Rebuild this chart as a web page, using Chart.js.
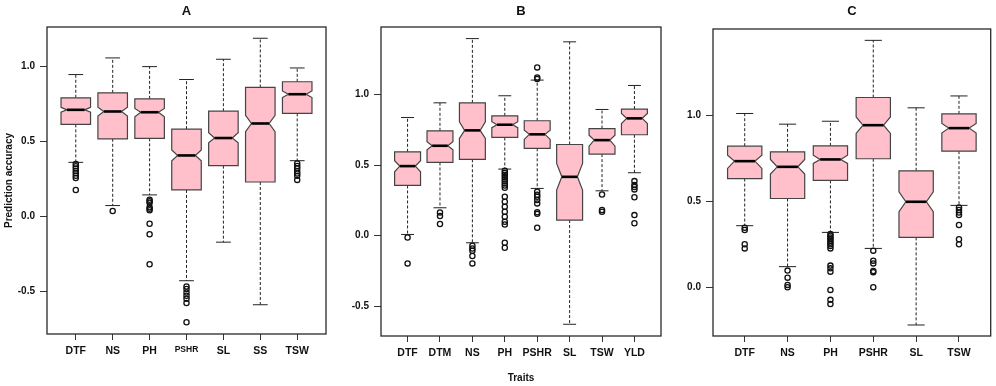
<!DOCTYPE html>
<html>
<head>
<meta charset="utf-8">
<script src="https://cdn.jsdelivr.net/npm/chart.js@4.4.0/dist/chart.umd.min.js"></script>
<style>
body{margin:0;background:#fff;width:996px;height:386px;overflow:hidden;position:relative}
.panel{position:absolute;top:0;height:386px}
</style>
</head>
<body>
<div class="panel" style="left:0;width:335px"><canvas id="chartA" width="335" height="386"></canvas></div>
<div class="panel" style="left:335px;width:335px"><canvas id="chartB" width="335" height="386"></canvas></div>
<div class="panel" style="left:670px;width:326px"><canvas id="chartC" width="326" height="386"></canvas></div>
<script>
// ---- panel A ----
const traitsA = ["DTF","NS","PH","PSHR","SL","SS","TSW"];
const lowA    = [0.359, 0.071, 0.142, -0.430, -0.173, -0.590, 0.370];
const q1A     = [0.612, 0.516, 0.519, 0.175, 0.337, 0.228, 0.685];
const medA    = [0.709, 0.698, 0.693, 0.405, 0.521, 0.618, 0.813];
const q3A     = [0.789, 0.822, 0.782, 0.580, 0.700, 0.858, 0.896];
const highA   = [0.944, 1.055, 0.997, 0.911, 1.046, 1.186, 0.988];
const notchLoA = [0.693, 0.667, 0.662, 0.370, 0.489, 0.563, 0.791];
const notchHiA = [0.725, 0.727, 0.718, 0.441, 0.556, 0.673, 0.835];
const outA = [
  [0.348, 0.333, 0.318, 0.302, 0.287, 0.270, 0.255, 0.175],
  [0.035],
  [0.110, 0.100, 0.090, 0.060, 0.050, 0.040, -0.050, -0.120, -0.320],
  [-0.468, -0.485, -0.508, -0.530, -0.550, -0.578, -0.707],
  [],
  [],
  [0.352, 0.335, 0.320, 0.300, 0.285, 0.270, 0.242]
];

// ---- panel B ----
const traitsB = ["DTF","DTM","NS","PH","PSHR","SL","TSW","YLD"];
const lowB    = [0.009, 0.198, -0.050, 0.472, 0.335, -0.627, 0.318, 0.446];
const q1B     = [0.356, 0.519, 0.541, 0.696, 0.619, 0.111, 0.578, 0.715];
const medB    = [0.493, 0.637, 0.746, 0.786, 0.718, 0.417, 0.677, 0.831];
const q3B     = [0.594, 0.743, 0.941, 0.849, 0.814, 0.646, 0.759, 0.897];
const highB   = [0.837, 0.941, 1.396, 0.991, 1.102, 1.373, 0.894, 1.064];
const notchLoB = [0.453, 0.608, 0.689, 0.765, 0.682, 0.323, 0.634, 0.795];
const notchHiB = [0.531, 0.665, 0.807, 0.807, 0.748, 0.512, 0.712, 0.866];
const outB = [
  [-0.012, -0.196],
  [0.165, 0.139, 0.083],
  [-0.071, -0.090, -0.106, -0.144, -0.196],
  [0.460, 0.445, 0.430, 0.415, 0.400, 0.385, 0.370, 0.355, 0.340, 0.276, 0.241, 0.205, 0.170, 0.134, 0.099, 0.080, -0.050, -0.085],
  [1.192, 1.120, 1.110, 0.311, 0.290, 0.276, 0.253, 0.229, 0.166, 0.155, 0.057],
  [],
  [0.292, 0.182, 0.170],
  [0.387, 0.359, 0.345, 0.328, 0.272, 0.146, 0.088]
];

// ---- panel C ----
const traitsC = ["DTF","NS","PH","PSHR","SL","TSW"];
const lowC    = [0.358, 0.120, 0.319, 0.226, -0.219, 0.476];
const q1C     = [0.632, 0.516, 0.621, 0.747, 0.290, 0.791];
const medC    = [0.733, 0.700, 0.743, 0.942, 0.497, 0.925];
const q3C     = [0.820, 0.787, 0.822, 1.103, 0.677, 1.008];
const highC   = [1.010, 0.948, 0.965, 1.435, 1.043, 1.112];
const notchLoC = [0.691, 0.658, 0.720, 0.894, 0.439, 0.897];
const notchHiC = [0.768, 0.743, 0.768, 0.990, 0.555, 0.952];
const outC = [
  [0.346, 0.333, 0.250, 0.226],
  [0.097, 0.056, 0.014, 0.000],
  [0.310, 0.300, 0.290, 0.280, 0.270, 0.260, 0.250, 0.240, 0.226, 0.126, 0.110, 0.091, -0.015, -0.073, -0.097],
  [0.213, 0.155, 0.139, 0.095, 0.088, 0.000],
  [],
  [0.464, 0.449, 0.435, 0.420, 0.362, 0.279, 0.250]
];

const FONT = "'Liberation Sans', Arial, sans-serif";
const INK = '#111';

function boxPlugin(st, title) {
  return {
    id: 'notchedBoxes',
    beforeDatasetsDraw(chart) {
      const {ctx, scales: {x, y}} = chart;
      const half = x.getPixelForValue(1.4) - x.getPixelForValue(1);
      const py = v => y.getPixelForValue(v);
      ctx.save();
      st.med.forEach((m, i) => {
        const xc = x.getPixelForValue(i + 1);
        // whiskers
        ctx.strokeStyle = '#222';
        ctx.lineWidth = 1;
        ctx.setLineDash([3, 2]);
        ctx.beginPath();
        ctx.moveTo(xc, py(st.q3[i])); ctx.lineTo(xc, py(st.high[i]));
        ctx.moveTo(xc, py(st.q1[i])); ctx.lineTo(xc, py(st.low[i]));
        ctx.stroke();
        ctx.setLineDash([]);
        ctx.beginPath();
        ctx.moveTo(xc - half / 2, py(st.high[i])); ctx.lineTo(xc + half / 2, py(st.high[i]));
        ctx.moveTo(xc - half / 2, py(st.low[i])); ctx.lineTo(xc + half / 2, py(st.low[i]));
        ctx.stroke();
        // notched box
        const n = half * 0.6;
        ctx.beginPath();
        ctx.moveTo(xc - half, py(st.q1[i]));
        ctx.lineTo(xc + half, py(st.q1[i]));
        ctx.lineTo(xc + half, py(st.nLo[i]));
        ctx.lineTo(xc + n, py(m));
        ctx.lineTo(xc + half, py(st.nHi[i]));
        ctx.lineTo(xc + half, py(st.q3[i]));
        ctx.lineTo(xc - half, py(st.q3[i]));
        ctx.lineTo(xc - half, py(st.nHi[i]));
        ctx.lineTo(xc - n, py(m));
        ctx.lineTo(xc - half, py(st.nLo[i]));
        ctx.closePath();
        ctx.fillStyle = '#FFC0CB';
        ctx.fill();
        ctx.strokeStyle = '#444';
        ctx.lineWidth = 1.2;
        ctx.stroke();
        // median
        ctx.beginPath();
        ctx.moveTo(xc - n, py(m)); ctx.lineTo(xc + n, py(m));
        ctx.strokeStyle = '#000';
        ctx.lineWidth = 2.6;
        ctx.stroke();
      });
      ctx.restore();
    },
    afterDraw(chart) {
      const {ctx, chartArea: a} = chart;
      ctx.save();
      ctx.strokeStyle = '#2a2a2a';
      ctx.lineWidth = 1.3;
      ctx.strokeRect(a.left, a.top, a.right - a.left, a.bottom - a.top);
      ctx.fillStyle = INK;
      ctx.font = "bold 13px " + FONT;
      ctx.textAlign = 'center';
      ctx.textBaseline = 'middle';
      ctx.fillText(title, (a.left + a.right) / 2, 11);
      ctx.restore();
    }
  };
}

function makePanel(id, cfg) {
  const pts = cfg.out.flatMap((arr, i) => arr.map(v => ({x: i + 1, y: v})));
  new Chart(document.getElementById(id), {
    type: 'scatter',
    data: {datasets: [{
      data: pts,
      pointRadius: 2.6,
      pointBorderWidth: 1.3,
      borderColor: '#111',
      backgroundColor: 'rgba(0,0,0,0)'
    }]},
    options: {
      responsive: false,
      animation: false,
      layout: {padding: {left: 0, right: cfg.padRight, top: cfg.padTop, bottom: 0}},
      plugins: {legend: {display: false}, tooltip: {enabled: false}},
      scales: {
        x: {
          type: 'linear', position: 'bottom',
          min: cfg.xMin, max: cfg.xMax,
          afterBuildTicks: s => { s.ticks = cfg.traits.map((t, i) => ({value: i + 1})); },
          afterFit: s => { s.height = cfg.xAxisH; },
          grid: {drawOnChartArea: false, drawTicks: true, tickLength: 6, color: '#333', lineWidth: 1},
          border: {display: false},
          ticks: {
            autoSkip: false, maxRotation: 0, padding: 5, color: INK,
            font: c => ({family: FONT, weight: 'bold', size: (cfg.smallPSHR && cfg.traits[c.index] === 'PSHR') ? 8.5 : 10.5}),
            callback: v => cfg.traits[v - 1]
          },
          title: {display: !!cfg.xTitle, text: cfg.xTitle || '', color: INK,
                  font: {family: FONT, weight: 'bold', size: 10}, padding: {top: 0, bottom: 2}}
        },
        y: {
          type: 'linear', position: 'left',
          min: cfg.yMin, max: cfg.yMax,
          afterBuildTicks: s => { s.ticks = cfg.yTicks.map(v => ({value: v})); },
          afterFit: s => { s.width = cfg.yAxisW; },
          grid: {drawOnChartArea: false, drawTicks: true, tickLength: 7, color: '#333', lineWidth: 1},
          border: {display: false},
          ticks: {padding: 5, color: INK, font: {family: FONT, weight: 'bold', size: 10},
                  callback: v => v.toFixed(1)},
          title: {display: !!cfg.yTitle, text: cfg.yTitle || '', color: INK,
                  font: {family: FONT, weight: 'bold', size: 10}, padding: {top: 3, bottom: 0}}
        }
      }
    },
    plugins: [boxPlugin({low: cfg.low, q1: cfg.q1, med: cfg.med, q3: cfg.q3, high: cfg.high, nLo: cfg.nLo, nHi: cfg.nHi}, cfg.title)]
  });
}

makePanel('chartA', {
  title: 'A', traits: traitsA, low: lowA, q1: q1A, med: medA, q3: q3A, high: highA,
  nLo: notchLoA, nHi: notchHiA, out: outA,
  xMin: 0.22, xMax: 7.78, yMin: -0.785, yMax: 1.261, yTicks: [-0.5, 0, 0.5, 1.0],
  yAxisW: 47, xAxisH: 52, padTop: 27, padRight: 9, smallPSHR: true,
  yTitle: 'Prediction accuracy'
});
makePanel('chartB', {
  title: 'B', traits: traitsB, low: lowB, q1: q1B, med: medB, q3: q3B, high: highB,
  nLo: notchLoB, nHi: notchHiB, out: outB,
  xMin: 0.18, xMax: 8.82, yMin: -0.710, yMax: 1.478, yTicks: [-0.5, 0, 0.5, 1.0],
  yAxisW: 46, xAxisH: 50, padTop: 27, padRight: 9,
  xTitle: 'Traits'
});
makePanel('chartC', {
  title: 'C', traits: traitsC, low: lowC, q1: q1C, med: medC, q3: q3C, high: highC,
  nLo: notchLoC, nHi: notchHiC, out: outC,
  xMin: 0.26, xMax: 6.74, yMin: -0.283, yMax: 1.501, yTicks: [0, 0.5, 1.0],
  yAxisW: 43, xAxisH: 50, padTop: 29, padRight: 2
});
</script>
</body>
</html>
